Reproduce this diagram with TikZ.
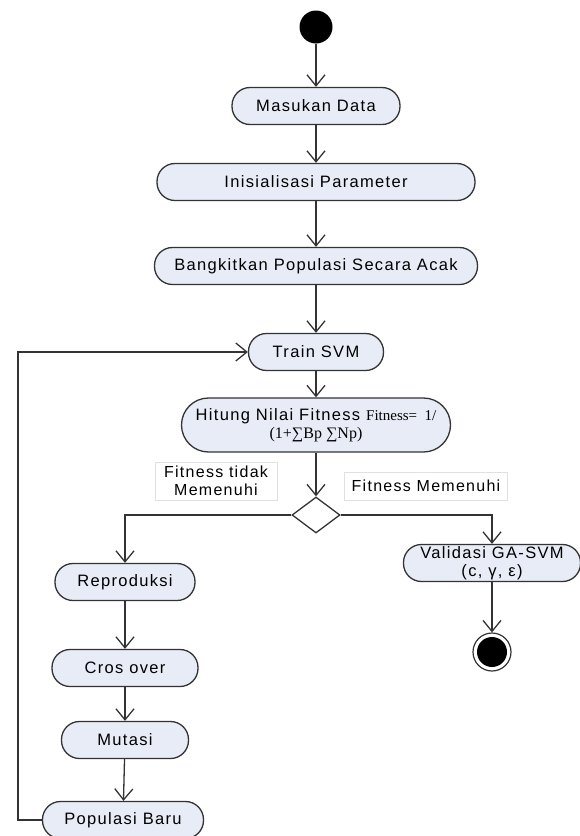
\documentclass[tikz,border=0pt]{standalone}
\usepackage{fontspec}
\setmainfont{Liberation Sans}[LetterSpace=8]
\newfontfamily\timesfont{Liberation Serif}
\usetikzlibrary{arrows.meta,shapes.geometric}
\definecolor{actfill}{HTML}{E7ECF6}

\begin{document}
\begin{tikzpicture}[x=1pt,y=-1pt,
        act/.style={draw=black!80, line width=1.3pt, fill=actfill, rounded corners=18pt,
            minimum height=37pt, inner sep=1pt, font=\fontsize{16.5}{18}\selectfont},
        flow/.style={draw=black!80, line width=1.3pt, -{Straight Barb[length=11pt,width=18pt]}},
        guard/.style={draw=black!12, inner sep=3pt, font=\fontsize{16}{18}\selectfont}]
        \useasboundingbox (0,0) rectangle (580,836);
        \node[circle, fill=black, minimum size=33pt, inner sep=0pt] (start) at (316,27) {};
        \node[act, minimum width=168pt] (data) at (316,106) {Masukan Data};
        \node[act, minimum width=318pt] (init) at (316,182) {Inisialisasi Parameter};
        \node[act, minimum width=323pt] (pop) at (316,266) {Bangkitkan Populasi Secara Acak};
        \node[act, minimum width=135pt] (svm) at (316,352) {Train SVM};
        \node[act, minimum width=269pt, minimum height=54pt, rounded corners=27pt, align=center] (fit) at (316,425)
            {Hitung Nilai Fitness {\timesfont\fontsize{15}{18}\selectfont Fitness=~~1/}\\{\timesfont\fontsize{16}{18}\selectfont (1+∑Bp ∑Np)}};
        \node[diamond, draw=black!80, line width=1.3pt, fill=white, minimum width=48pt, minimum height=36pt, inner sep=0pt] (dec) at (316,515) {};
        \node[guard, align=center, minimum width=122pt, minimum height=38pt] (no) at (216,481) {Fitness tidak\\Memenuhi};
        \node[guard, minimum width=163pt, minimum height=28pt] (yes) at (426,486) {Fitness Memenuhi};
        \node[act, minimum width=140pt] (rep) at (125,582) {Reproduksi};
        \node[act, minimum width=146pt] (cross) at (125,668) {Cros over};
        \node[act, minimum width=127pt] (mut) at (125,740) {Mutasi};
        \node[act, minimum width=161pt] (baru) at (123,820) {Populasi Baru};
        \node[act, minimum width=177pt, align=center, inner sep=0pt] (valid) at (492,563) {Validasi GA-SVM\\(c, γ, ε)};
        \node[circle, draw=black!80, line width=1.2pt, fill=white, minimum size=38pt, inner sep=0pt] (stop) at (492,652) {};
        \fill[black] (stop) circle (15pt);
        \coordinate (back) at (18,820);
        \draw[flow] (start) -- (data);
        \draw[flow] (data) -- (init);
        \draw[flow] (init) -- (pop);
        \draw[flow] (pop) -- (svm);
        \draw[flow] (svm) -- (fit);
        \draw[flow] (fit) -- (dec);
        \draw[flow] (dec.west) -| (rep.north);
        \draw[flow] (dec.east) -| (valid.north);
        \draw[flow] (valid) -- (stop);
        \draw[flow] (rep) -- (cross);
        \draw[flow] (cross) -- (mut);
        \draw[flow] (mut) -- (baru);
        \draw[flow] (baru.west) -- (back) |- (svm.west);
    \end{tikzpicture}
\end{document}
